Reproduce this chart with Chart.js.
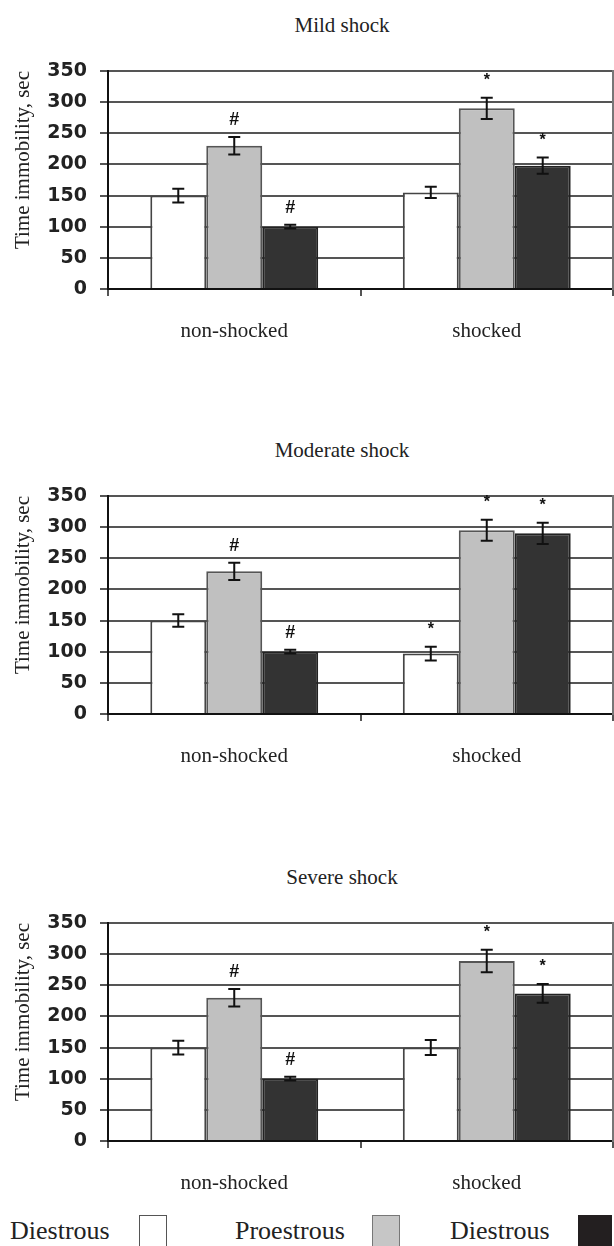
<!DOCTYPE html>
<html>
<head>
<meta charset="utf-8">
<script src="https://cdn.jsdelivr.net/npm/chart.js@4.4.1/dist/chart.umd.min.js"></script>
<style>
  html, body { margin: 0; padding: 0; background: #fff; }
  body { width: 614px; height: 1246px; position: relative; overflow: hidden; font-family: "Liberation Serif", "Times New Roman", serif; color: #222; }
  .box { position: absolute; left: 0; width: 614px; height: 350px; }
  .title { position: absolute; left: 242px; width: 200px; text-align: center; font-size: 21px; line-height: 24px; color: #222; }
  .leg { position: absolute; top: 1216px; font-size: 26px; line-height: 30px; color: #222; }
  .sw { position: absolute; top: 1215px; width: 28px; height: 40px; border: 1.5px solid #555; box-sizing: border-box; }
</style>
</head>
<body>
<div class="title" style="top:13px">Mild shock</div>
<div class="title" style="top:438px">Moderate shock</div>
<div class="title" style="top:865px">Severe shock</div>
<div class="box" style="top:0px"><canvas id="c1" width="614" height="350"></canvas></div>
<div class="box" style="top:425px"><canvas id="c2" width="614" height="350"></canvas></div>
<div class="box" style="top:852px"><canvas id="c3" width="614" height="350"></canvas></div>

<div class="leg" style="left:10px">Diestrous</div>
<div class="sw" style="left:139px;background:#fff"></div>
<div class="leg" style="left:235px">Proestrous</div>
<div class="sw" style="left:372px;background:#c6c6c6;border-color:#777"></div>
<div class="leg" style="left:450px">Diestrous</div>
<div class="sw" style="left:578px;width:34px;background:#231f20;border-color:#231f20"></div>

<script>
// ---- data ----
const categories = ['non-shocked', 'shocked'];
const seriesNames = ['Diestrous', 'Proestrous', 'Diestrous'];
const yTickValues = [0, 50, 100, 150, 200, 250, 300, 350];
const yAxisTitle = 'Time immobility, sec';

// Mild shock
const mildDiestrous = [150, 155];
const mildDiestrousErr = [11, 9];
const mildDiestrousMarks = ['', ''];
const mildProestrous = [230, 290];
const mildProestrousErr = [14, 17];
const mildProestrousMarks = ['#', '*'];
const mildDiestrousDark = [100, 198];
const mildDiestrousDarkErr = [3, 13];
const mildDiestrousDarkMarks = ['#', '*'];

// Moderate shock
const modDiestrous = [150, 97];
const modDiestrousErr = [10, 11];
const modDiestrousMarks = ['', '*'];
const modProestrous = [229, 295];
const modProestrousErr = [14, 17];
const modProestrousMarks = ['#', '*'];
const modDiestrousDark = [100, 290];
const modDiestrousDarkErr = [3, 17];
const modDiestrousDarkMarks = ['#', '*'];

// Severe shock
const sevDiestrous = [150, 150];
const sevDiestrousErr = [11, 12];
const sevDiestrousMarks = ['', ''];
const sevProestrous = [230, 289];
const sevProestrousErr = [14, 18];
const sevProestrousMarks = ['#', '*'];
const sevDiestrousDark = [100, 237];
const sevDiestrousDarkErr = [3, 15];
const sevDiestrousDarkMarks = ['#', '*'];

// ---- styles ----
const fills = ['#ffffff', '#c0c0c0', '#333333'];
const borders = ['#444444', '#555555', '#222222'];

const errorBarPlugin = {
  id: 'errorBars',
  afterDatasetsDraw(chart) {
    const ctx = chart.ctx;
    const ys = chart.scales.y;
    chart.data.datasets.forEach((ds, i) => {
      const meta = chart.getDatasetMeta(i);
      meta.data.forEach((bar, j) => {
        const v = ds.data[j], e = ds.errors[j];
        const x = bar.x;
        const yHi = ys.getPixelForValue(v + e);
        const yLo = ys.getPixelForValue(v - e);
        ctx.save();
        ctx.strokeStyle = '#111';
        ctx.lineWidth = 2;
        ctx.beginPath();
        ctx.moveTo(x, yHi); ctx.lineTo(x, yLo);
        ctx.moveTo(x - 6, yHi); ctx.lineTo(x + 6, yHi);
        ctx.moveTo(x - 6, yLo); ctx.lineTo(x + 6, yLo);
        ctx.stroke();
        const m = ds.marks[j];
        if (m) {
          ctx.fillStyle = '#111';
          ctx.textAlign = 'center';
          ctx.textBaseline = 'middle';
          if (m === '#') {
            ctx.font = 'bold 18px "Liberation Sans", Arial, sans-serif';
            ctx.fillText(m, x, yHi - 17);
          } else {
            ctx.font = 'bold 16px "Liberation Sans", Arial, sans-serif';
            ctx.fillText(m, x, yHi - 17);
          }
        }
        ctx.restore();
      });
    });
  }
};

function makeChart(id, d1, e1, m1, d2, e2, m2, d3, e3, m3) {
  const dataSets = [[d1, e1, m1], [d2, e2, m2], [d3, e3, m3]];
  return new Chart(document.getElementById(id), {
    type: 'bar',
    data: {
      labels: categories,
      datasets: dataSets.map((s, i) => ({
        label: seriesNames[i],
        data: s[0],
        errors: s[1],
        marks: s[2],
        backgroundColor: fills[i],
        borderColor: borders[i],
        borderWidth: 2,
        borderSkipped: 'start',
        barPercentage: 1.0,
        categoryPercentage: 0.665
      }))
    },
    options: {
      responsive: false,
      animation: false,
      events: [],
      layout: { padding: { left: 7, right: 1, top: 71, bottom: 6 } },
      plugins: { legend: { display: false }, tooltip: { enabled: false }, title: { display: false } },
      scales: {
        x: {
          afterFit: s => { s.height = 55; },
          grid: { display: true, offset: true, drawOnChartArea: false, drawTicks: true, tickLength: 7, color: '#555', lineWidth: 2 },
          border: { display: true, color: '#111', width: 2 },
          ticks: { padding: 23, color: '#222', font: { family: '"Liberation Serif", "Times New Roman", serif', size: 21 } }
        },
        y: {
          min: 0, max: 350,
          afterBuildTicks: s => { s.ticks = yTickValues.map(v => ({ value: v })); },
          afterFit: s => { s.width = 101; },
          grid: { color: '#555', lineWidth: 2, tickLength: 8, drawTicks: true },
          border: { display: true, color: '#111', width: 2 },
          ticks: { padding: 13, color: '#222', font: { family: '"DejaVu Sans", sans-serif', size: 19, weight: 'bold' } },
          title: { display: true, text: yAxisTitle, align: 'end', color: '#222', font: { family: '"Liberation Serif", "Times New Roman", serif', size: 21 }, padding: { top: 4, bottom: 4 } }
        },
        y2: {
          position: 'right', min: 0, max: 350,
          grid: { display: false, drawOnChartArea: false, drawTicks: false },
          ticks: { display: false },
          border: { display: true, color: '#777', width: 2 },
          afterFit: s => { s.width = 0; }
        }
      }
    },
    plugins: [errorBarPlugin]
  });
}

makeChart('c1', mildDiestrous, mildDiestrousErr, mildDiestrousMarks,
  mildProestrous, mildProestrousErr, mildProestrousMarks,
  mildDiestrousDark, mildDiestrousDarkErr, mildDiestrousDarkMarks);
makeChart('c2', modDiestrous, modDiestrousErr, modDiestrousMarks,
  modProestrous, modProestrousErr, modProestrousMarks,
  modDiestrousDark, modDiestrousDarkErr, modDiestrousDarkMarks);
makeChart('c3', sevDiestrous, sevDiestrousErr, sevDiestrousMarks,
  sevProestrous, sevProestrousErr, sevProestrousMarks,
  sevDiestrousDark, sevDiestrousDarkErr, sevDiestrousDarkMarks);
</script>
</body>
</html>
